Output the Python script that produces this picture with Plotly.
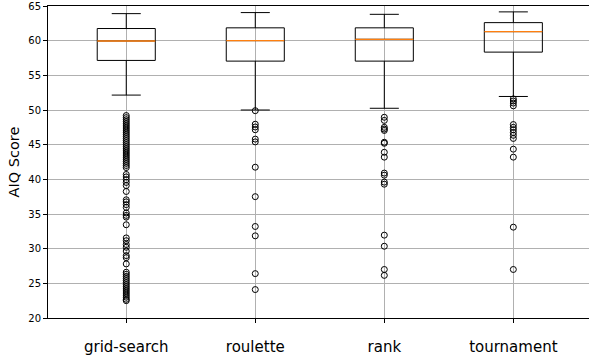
import plotly.graph_objects as go

# Selection strategies and their box-plot statistics (AIQ score)
categories = ["grid-search", "roulette", "rank", "tournament"]
positions = [1, 2, 3, 4]
q1 = [57.15, 57.05, 57.05, 58.35]
median = [59.95, 60.0, 60.2, 61.3]
q3 = [61.75, 61.85, 61.85, 62.6]
lower_whisker = [52.15, 50.0, 50.25, 51.95]
upper_whisker = [63.9, 64.05, 63.8, 64.15]

# Points beyond the whiskers
outliers_grid_search = [
    49.2, 48.9, 48.6, 48.3, 48.0, 47.7, 47.4, 47.1, 46.8, 46.5, 46.2, 45.9,
    45.6, 45.3, 45.0, 44.7, 44.4, 44.1, 43.8, 43.5, 43.2, 42.9, 42.6, 42.3,
    42.0, 41.7, 40.7, 40.35, 39.95, 39.55, 39.1, 38.25, 37.05, 36.75, 36.35,
    35.95, 35.15, 34.8, 34.55, 33.45, 31.55, 31.15, 30.6, 30.2, 29.65, 29.0,
    28.7, 27.8, 26.6, 26.3, 26.0, 25.7, 25.4, 25.1, 24.8, 24.5, 24.2, 23.9,
    23.6, 23.3, 23.0, 22.7, 22.5,
]
outliers_roulette = [49.9, 47.95, 47.55, 47.15, 45.8, 45.4, 41.75, 37.5, 33.2, 31.85, 26.4, 24.1]
outliers_rank = [
    48.95, 48.5, 47.5, 47.25, 47.05, 45.35, 45.2, 43.9, 43.2, 40.9, 40.6,
    39.6, 39.3, 31.95, 30.35, 27.0, 26.15,
]
outliers_tournament = [
    51.6, 51.3, 51.0, 50.6, 47.9, 47.5, 47.15, 46.75, 46.35, 45.9, 44.35,
    43.2, 33.1, 27.0,
]
outliers = [outliers_grid_search, outliers_roulette, outliers_rank, outliers_tournament]

box_width = 0.45
font = "DejaVu Sans"

fig = go.Figure()

# Boxes with whiskers and caps (unfilled, black outline)
fig.add_trace(go.Box(
    x=positions,
    q1=q1,
    median=median,
    q3=q3,
    lowerfence=lower_whisker,
    upperfence=upper_whisker,
    width=box_width,
    whiskerwidth=0.5,
    fillcolor="rgba(0,0,0,0)",
    line=dict(color="black", width=1),
    hoverinfo="skip",
))

# Orange median lines drawn over the boxes
mx, my = [], []
for p, m in zip(positions, median):
    mx += [p - box_width / 2, p + box_width / 2, None]
    my += [m, m, None]
fig.add_trace(go.Scatter(
    x=mx, y=my, mode="lines",
    line=dict(color="#ff7f0e", width=1.3),
    hoverinfo="skip",
))

# Outlier markers as open circles
for p, vals in zip(positions, outliers):
    fig.add_trace(go.Scatter(
        x=[p] * len(vals), y=vals, mode="markers",
        marker=dict(symbol="circle-open", size=6, color="black",
                    line=dict(width=1, color="black")),
        hoverinfo="skip",
    ))

fig.update_layout(
    width=589, height=358,
    margin=dict(l=48, r=0, t=6, b=40),
    paper_bgcolor="white", plot_bgcolor="white",
    showlegend=False,
    font=dict(family=font, color="black"),
)
fig.update_xaxes(
    range=[0.3935, 4.5864],
    tickmode="array", tickvals=positions, ticktext=categories,
    tickfont=dict(size=15, family=font, color="black"),
    ticklabelstandoff=11,
    showgrid=True, gridcolor="#b0b0b0", gridwidth=1,
    showline=True, linecolor="black", linewidth=1, mirror=True,
    ticks="outside", ticklen=4, tickcolor="black",
    zeroline=False,
)
fig.update_yaxes(
    range=[20, 65], tick0=20, dtick=5,
    tickfont=dict(size=10, family=font, color="black"),
    title=dict(text="AIQ Score", font=dict(size=14.5, family=font, color="black"), standoff=5),
    showgrid=True, gridcolor="#b0b0b0", gridwidth=1,
    showline=True, linecolor="black", linewidth=1,
    ticks="outside", ticklen=4, tickcolor="black",
    zeroline=False,
)

fig.write_html("out.html")
